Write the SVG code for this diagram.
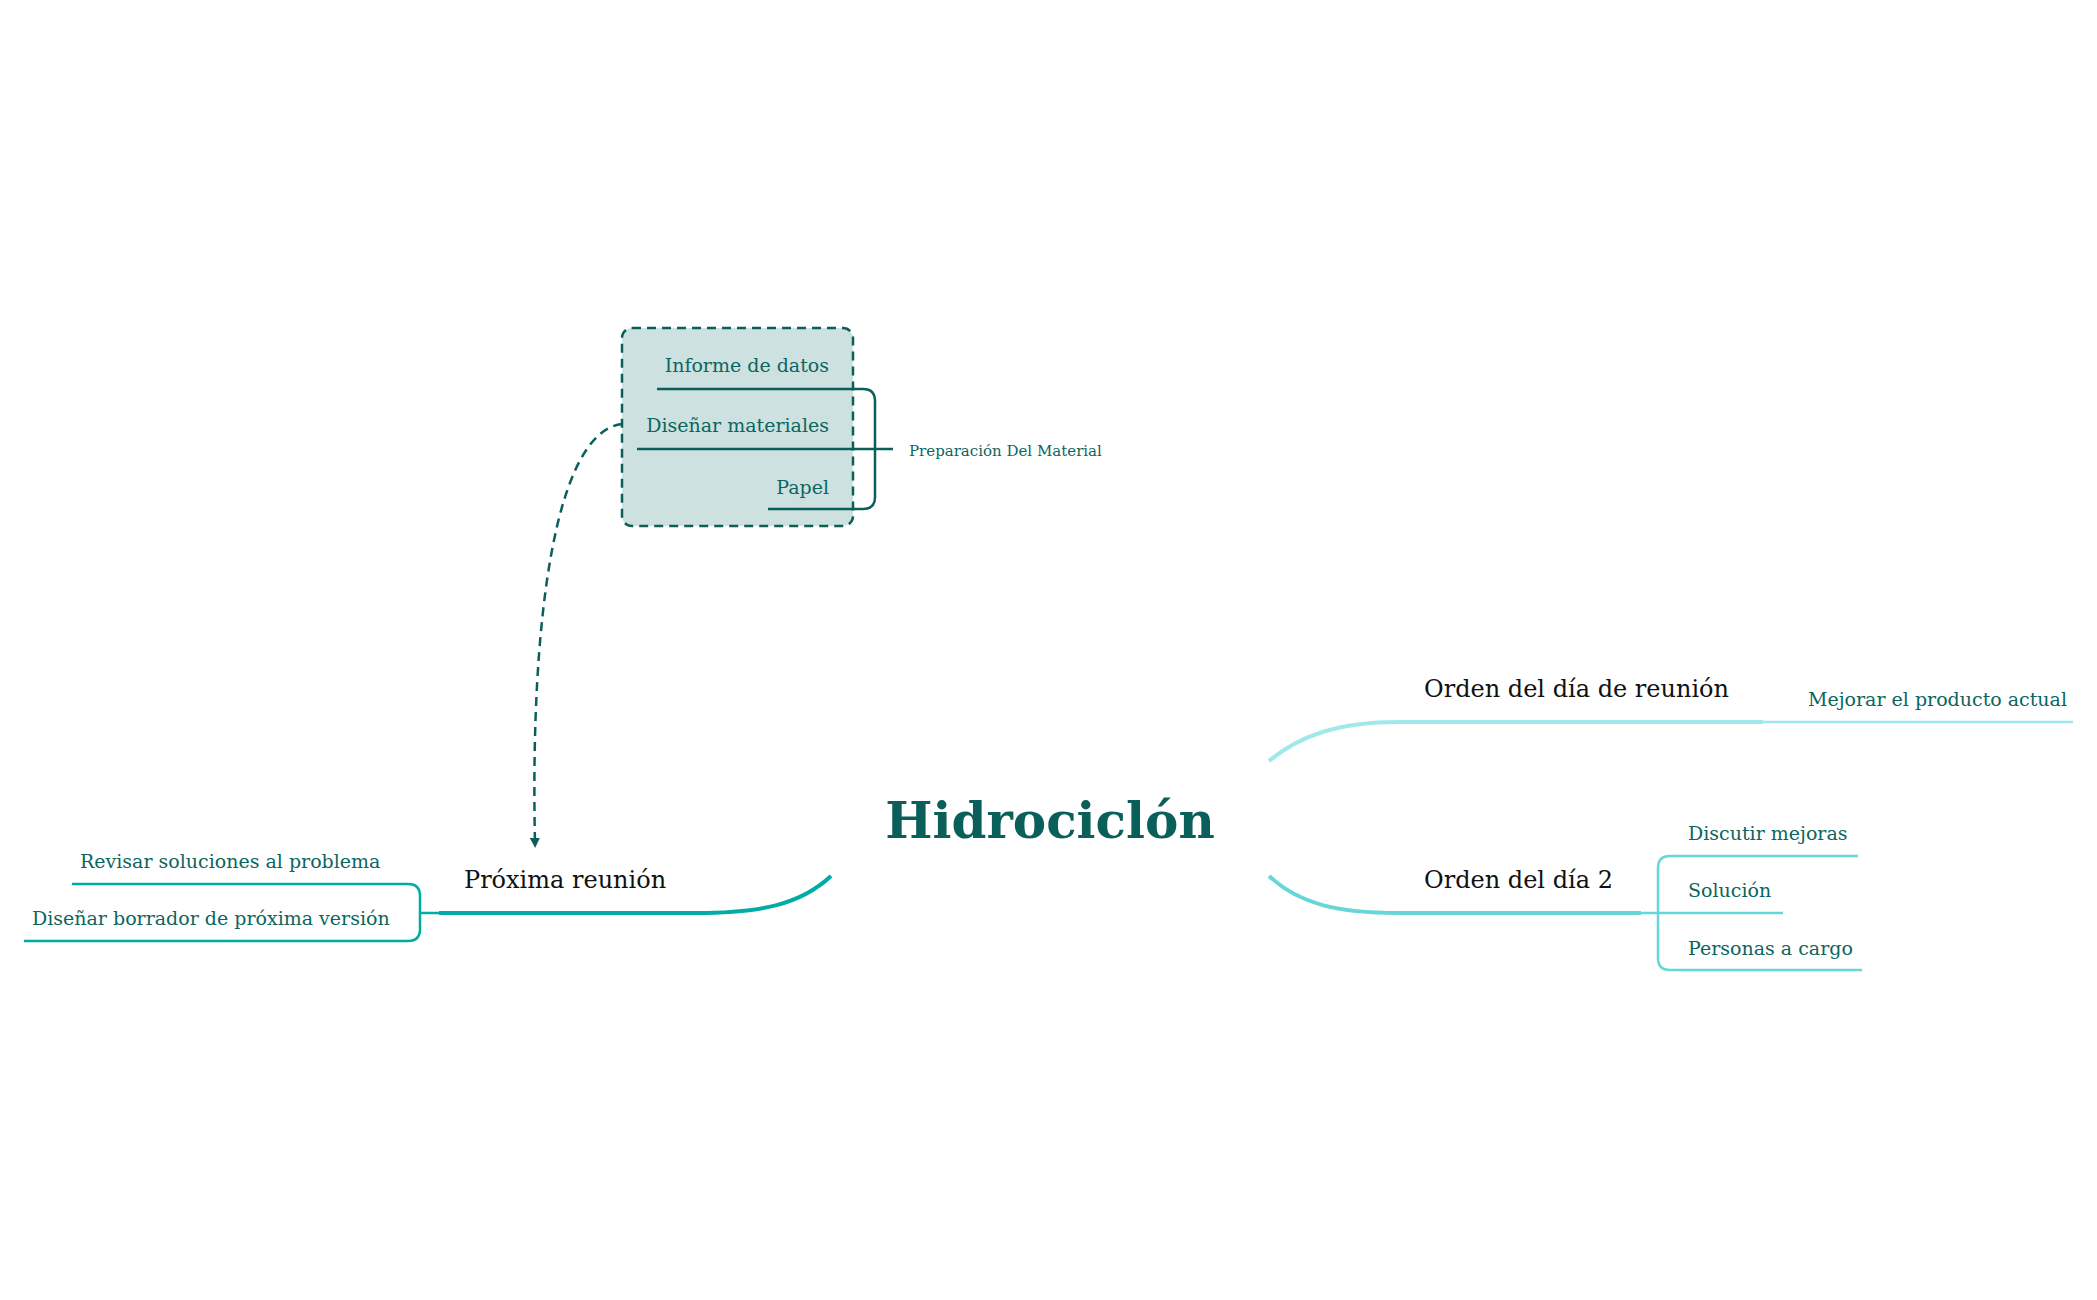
<svg xmlns="http://www.w3.org/2000/svg" width="2097" height="1300" viewBox="0 0 2097 1300">
<style>
text{font-family:"DejaVu Serif","Liberation Serif",serif}
.s{font-size:19px;fill:#0b6660}
.m{font-size:24px;fill:#111}
.d{fill:none;stroke:#0b5f5a;stroke-width:2.5}
</style>
<defs><marker id="ar" viewBox="0 0 10 10" refX="5" refY="5" markerWidth="4" markerHeight="4" orient="auto"><path d="M0,0L10,5L0,10z" fill="#0b5f5a"/></marker></defs>
<rect width="2097" height="1300" fill="#fff"/>
<g id="connectors" fill="none">
<path d="M622,424 C555,432 530,620 535,843" stroke="#0b5f5a" stroke-width="2.5" stroke-dasharray="9,6" marker-end="url(#ar)"/>
<path d="M831,876 C800,905 760,913 695,913 L439,913" stroke="#00aca5" stroke-width="4"/>
<path d="M1269,761 C1300,735 1340,722 1398,722 L1763,722" stroke="#a0e8ec" stroke-width="4"/>
<path d="M1763,722 L2073,722" stroke="#a0e8ec" stroke-width="2.5"/>
<path d="M1269,876 C1300,905 1340,913 1398,913 L1641,913" stroke="#66d6d6" stroke-width="4"/>
<path d="M1641,913 L1783,913 M1858,856 L1670,856 Q1658,856 1658,868 L1658,958 Q1658,970 1670,970 L1862,970" stroke="#66d6d6" stroke-width="2.5"/>
<path d="M72,884 L408,884 Q420,884 420,896 L420,929 Q420,941 408,941 L24,941 M420,913 L439,913" stroke="#00aca5" stroke-width="2.5"/>
</g>
<g id="group-material">
<rect x="622" y="328" width="231" height="198" rx="10" fill="#cde1e0" stroke="#0b5f5a" stroke-width="2.5" stroke-dasharray="9,6"/>
<path class="d" d="M657,389 L863,389 Q875,389 875,401 L875,497 Q875,509 863,509 L768,509 M637,449 L893,449"/>
<text class="s" x="829" y="372" text-anchor="end">Informe de datos</text>
<text class="s" x="829" y="432" text-anchor="end">Diseñar materiales</text>
<text class="s" x="829" y="494" text-anchor="end">Papel</text>
<text x="909" y="456" style="font-size:15px;fill:#0b6660">Preparación Del Material</text>
</g>
<g id="center"><text x="1050" y="838" text-anchor="middle" style="font-size:50px;font-weight:bold;fill:#0b5f5a">Hidrociclón</text></g>
<g id="proxima"><text class="m" x="464" y="888">Próxima reunión</text>
<text class="s" x="80" y="868">Revisar soluciones al problema</text>
<text class="s" x="32" y="925">Diseñar borrador de próxima versión</text></g>
<g id="orden1"><text class="m" x="1424" y="697">Orden del día de reunión</text>
<text class="s" x="1808" y="706">Mejorar el producto actual</text></g>
<g id="orden2"><text class="m" x="1424" y="888">Orden del día 2</text>
<text class="s" x="1688" y="840">Discutir mejoras</text>
<text class="s" x="1688" y="897">Solución</text>
<text class="s" x="1688" y="955">Personas a cargo</text></g>
</svg>
